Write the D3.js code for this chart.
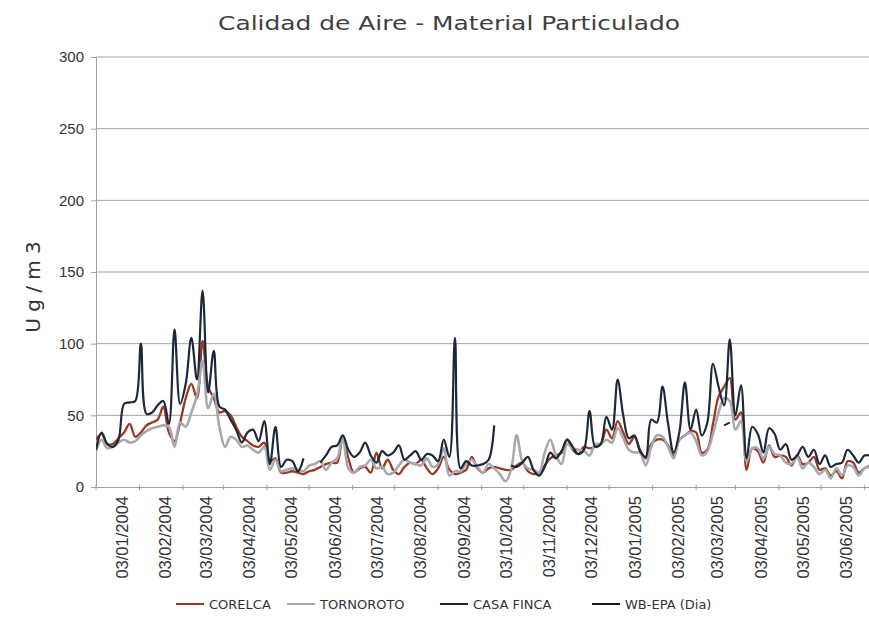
<!DOCTYPE html>
<html><head><meta charset="utf-8">
<script src="https://cdn.jsdelivr.net/npm/d3@7"></script>
<style>body{margin:0;background:#fff}svg{display:block}</style>
</head><body>
<svg id="chart" width="869" height="619"></svg>
<script>
// ---- data (sampled every 4 days from 2003-12-16) ----
const startDate = "2003-12-16";
const stepDays = 4;
const corelca = [33,37,30,30,34,38,44,35,38,43,45,47,56,38,32,45,62,72,62,102,70,62,52,53,50,42,35,32,29,28,31,18,20,10,10,11,10,9,11,12,14,16,17,17,35,20,10,13,14,10,24,13,19,12,9,14,17,16,19,13,9,13,21,12,9,10,12,21,13,10,13,14,13,12,12,15,17,11,9,10,15,20,22,24,33,26,23,28,27,28,30,40,34,46,38,30,35,26,20,30,33,33,29,22,33,36,39,38,24,26,44,63,70,76,47,52,12,27,25,17,29,21,22,21,15,22,16,17,21,12,13,8,11,6,18,17,10,13,15];
const tornoroto = [25,33,27,28,31,33,31,32,36,39,41,42,43,42,28,45,42,52,64,88,55,65,42,28,35,33,28,29,26,24,28,12,19,11,12,13,12,11,15,16,18,12,17,20,35,13,10,14,15,19,13,14,9,10,15,19,17,16,15,20,14,16,27,8,11,11,16,19,14,10,16,13,9,4,12,36,18,13,12,10,24,33,22,16,30,27,26,25,22,30,30,33,31,41,34,26,24,24,15,28,36,35,28,20,33,36,38,32,22,25,37,52,62,60,40,46,18,27,27,20,28,23,22,17,16,21,13,17,14,9,12,6,13,8,15,14,8,13,14];
const casaFinca = [26,38,30,28,33,58,59,60,100,51,52,57,60,44,110,58,72,104,75,137,66,95,56,54,47,40,31,38,40,32,46,16,42,14,19,18,11,20,null,null,17,22,28,29,36,26,21,24,31,22,17,25,22,24,29,19,22,25,19,23,22,18,33,21,104,13,18,15,15,16,19,43,null,null,15,14,17,21,12,8,14,24,20,25,33,28,23,26,53,28,30,49,40,75,50,34,36,25,21,47,45,70,44,24,38,73,40,54,36,45,86,70,57,103,50,71,20,42,37,24,41,37,26,30,19,22,28,21,26,16,22,14,16,17,26,22,17,22,22];
const wbEpaDates = ["2005-03-08","2005-03-12"];
const wbEpa = [43,45];
const tickLabels = ["03/01/2004","03/02/2004","03/03/2004","03/04/2004","03/05/2004","03/06/2004","03/07/2004","03/08/2004","03/09/2004","03/10/2004","03/11/2004","03/12/2004","03/01/2005","03/02/2005","03/03/2005","03/04/2005","03/05/2005","03/06/2005"];
const yTicks = [0,50,100,150,200,250,300];
const seriesNames = ["CORELCA","TORNOROTO","CASA FINCA","WB-EPA (Dia)"];
const seriesColors = ["#9a3826","#a7a9ae","#1c2838","#1a1a1a"];

// ---- layout ----
const svg = d3.select("#chart");
const parse = d3.timeParse("%Y-%m-%d");
const parseTick = d3.timeParse("%d/%m/%Y");
const t0 = parse(startDate);
const dates = corelca.map((_, i) => d3.timeDay.offset(t0, i * stepDays));

const x = d3.scaleTime().domain([parse("2003-12-16"), parse("2005-06-20")]).range([96, 870]);
const y = d3.scaleLinear().domain([0, 300]).range([487, 57]);

// gridlines
svg.append("g").selectAll("line").data(yTicks.filter(v => v > 0)).join("line")
  .attr("x1", 96).attr("x2", 869)
  .attr("y1", d => y(d)).attr("y2", d => y(d))
  .attr("stroke", "#a3a3a3").attr("stroke-width", 1);

// y axis
const yAxis = svg.append("g").attr("transform", "translate(96,0)")
  .call(d3.axisLeft(y).tickValues(yTicks).tickSize(5).tickPadding(7).tickFormat(d3.format("d")));
yAxis.select(".domain").attr("stroke", "#a0a0a8");
yAxis.selectAll(".tick line").attr("stroke", "#a0a0a8");
yAxis.selectAll("text").attr("font-family", "Liberation Sans, Arial, sans-serif")
  .attr("font-size", 15).attr("fill", "#333");

// x axis
const tickDates = tickLabels.map(parseTick);
const xAxis = svg.append("g").attr("transform", "translate(0,487)")
  .call(d3.axisBottom(x).tickValues(tickDates).tickSize(0).tickFormat((d, i) => tickLabels[i]));
xAxis.select(".domain").attr("stroke", "#a0a0a8");
xAxis.selectAll("text")
  .attr("font-family", "Liberation Sans, Arial, sans-serif").attr("font-size", 16.5).attr("fill", "#333")
  .attr("transform", "rotate(-90)").attr("text-anchor", "end")
  .attr("x", -9).attr("y", 0).attr("dy", "0.35em");
// minor tick marks (monthly, from axis start)
const minorTicks = d3.timeMonth.every(1).range(parse("2003-12-01"), parse("2005-07-01")).map(d => d3.timeDay.offset(d, 15));
svg.append("g").selectAll("line").data(minorTicks.filter(d => x(d) >= 96 && x(d) <= 869)).join("line")
  .attr("x1", d => x(d)).attr("x2", d => x(d)).attr("y1", 485).attr("y2", 490)
  .attr("stroke", "#a0a0a8");

// lines
const line = d3.line().defined(d => d.v != null).x(d => x(d.t)).y(d => y(d.v)).curve(d3.curveCatmullRom);
const series = [
  corelca.map((v, i) => ({t: dates[i], v})),
  tornoroto.map((v, i) => ({t: dates[i], v})),
  casaFinca.map((v, i) => ({t: dates[i], v})),
  wbEpa.map((v, i) => ({t: parse(wbEpaDates[i]), v}))
];
const widths = [2.3, 2.6, 2.2, 1.8];
svg.append("clipPath").attr("id", "clip").append("rect")
  .attr("x", 96).attr("y", 40).attr("width", 773).attr("height", 448);
svg.append("g").attr("clip-path", "url(#clip)").selectAll("path").data(series).join("path")
  .attr("d", line).attr("fill", "none")
  .attr("stroke", (d, i) => seriesColors[i]).attr("stroke-width", (d, i) => widths[i])
  .attr("stroke-linejoin", "round");

// title
svg.append("text").attr("x", 449).attr("y", 30).attr("text-anchor", "middle")
  .attr("font-family", "DejaVu Sans, sans-serif").attr("font-size", 20).attr("fill", "#404040")
  .attr("textLength", 462).attr("lengthAdjust", "spacingAndGlyphs")
  .text("Calidad de Aire - Material Particulado");

// y title
svg.append("text").attr("transform", "translate(40,287) rotate(-90)").attr("text-anchor", "middle")
  .attr("font-family", "DejaVu Sans, sans-serif").attr("font-size", 20).attr("fill", "#333")
  .text("U g / m 3");

// legend
const legendX = [176, 287, 440, 592];
const lg = svg.append("g").selectAll("g").data(seriesNames).join("g")
  .attr("transform", (d, i) => `translate(${legendX[i]},604)`);
lg.append("line").attr("x1", 0).attr("x2", 28).attr("y1", 0).attr("y2", 0)
  .attr("stroke", (d, i) => seriesColors[i]).attr("stroke-width", 2);
lg.append("text").attr("x", 33).attr("y", 0).attr("dy", "0.36em")
  .attr("font-family", "DejaVu Sans, sans-serif").attr("font-size", 13).attr("fill", "#333")
  .text(d => d);
</script>
</body></html>
